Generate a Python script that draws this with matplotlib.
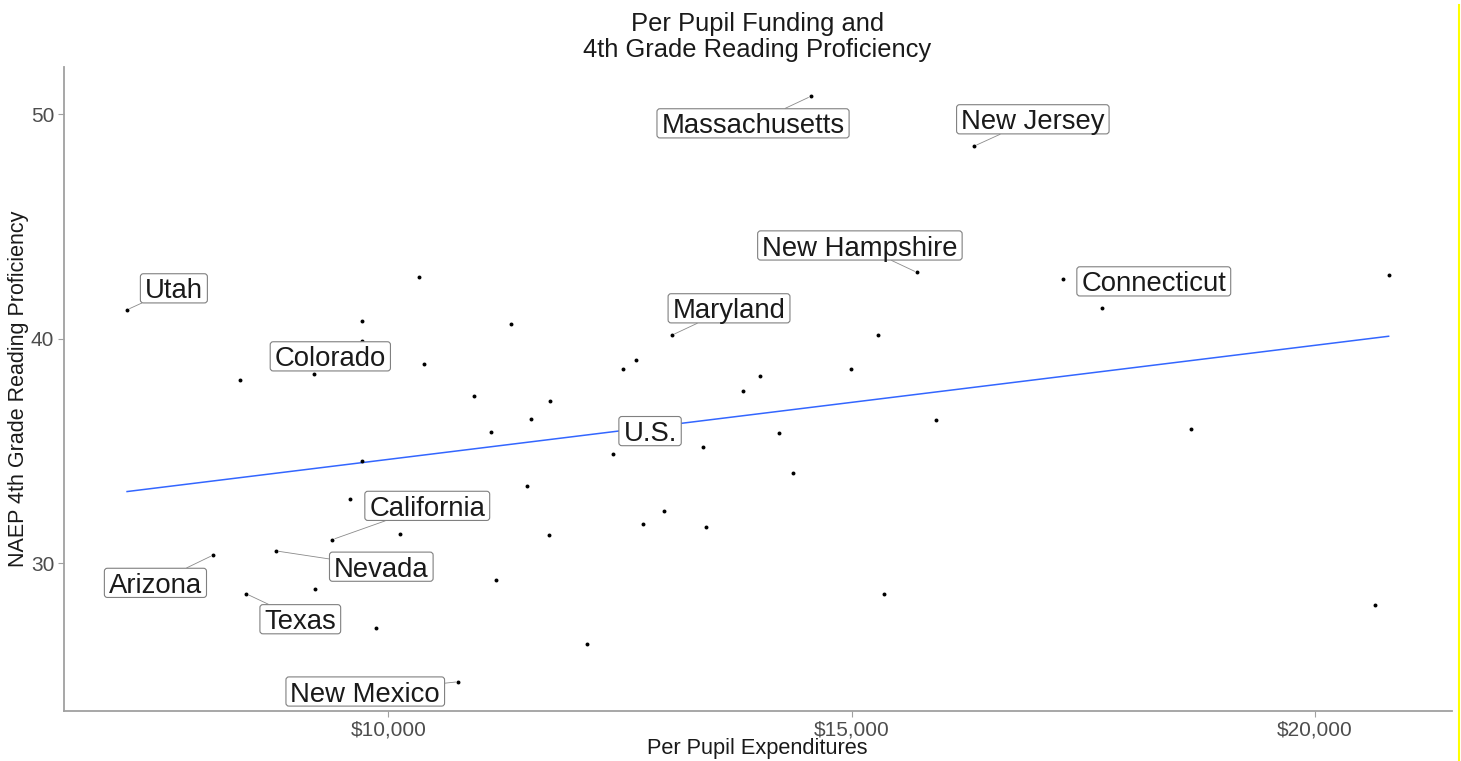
import numpy as np
import matplotlib
matplotlib.use('Agg')
import matplotlib.pyplot as plt
from matplotlib.patches import FancyBboxPatch
from matplotlib.ticker import FuncFormatter
from matplotlib.transforms import ScaledTranslation, IdentityTransform
from matplotlib.lines import Line2D

plt.rcParams['font.family'] = ['Liberation Sans', 'DejaVu Sans']

# labelled states: per pupil spending ($) and NAEP 4th grade reading proficiency (%)
label_names = ['Utah', 'Massachusetts', 'New Jersey', 'New Hampshire', 'Maryland',
               'Connecticut', 'Colorado', 'U.S.', 'California', 'Nevada',
               'Arizona', 'Texas', 'New Mexico']
label_spend = [7182, 14561, 16322, 15707, 13062, 17282, 9202, 12426, 9396, 8785,
               8110, 8466, 10758]
label_read = [41.29, 50.80, 48.58, 42.95, 40.16, 42.65, 38.44, 34.86, 31.05, 30.55,
              30.36, 28.64, 24.72]

# the other states
other_spend = [10337, 9720, 11323, 9716, 10381, 8404, 15284, 12677, 12531, 14011,
               14989, 17696, 20794, 10927, 11747, 11545, 11111, 9720, 11496, 9583,
               10129, 11739, 9210, 11161, 9867, 13831, 13393, 14216, 15906, 14364,
               12979, 12750, 13429, 15348, 12143, 18662, 20643]
other_read = [42.76, 40.77, 40.67, 39.88, 38.86, 38.15, 40.16, 39.07, 38.65, 38.36,
              38.65, 41.38, 42.86, 37.45, 37.24, 36.44, 35.85, 34.56, 33.44, 32.86,
              31.32, 31.26, 28.84, 29.24, 27.12, 37.66, 35.16, 35.78, 36.37, 34.04,
              32.32, 31.73, 31.63, 28.64, 26.41, 35.97, 28.13]

# where the repelled label boxes sit (box centres, data units)
label_box_x = [7687, 13936, 16955, 15089, 13677, 18260, 9375, 12825, 10421, 9925,
               7488, 9051, 9752]
label_box_y = [42.24, 49.59, 49.77, 44.15, 41.35, 42.55, 39.21, 35.88, 32.55, 29.84,
               29.12, 27.50, 24.28]
no_segment = ['Connecticut', 'Colorado', 'U.S.']

W, H = 1461, 761
fig = plt.figure(figsize=(W / 100, H / 100), dpi=100)
ax = fig.add_axes([64 / W, 50 / H, 1387.7 / W, 644 / H])

all_x = np.array(label_spend + other_spend, dtype=float)
all_y = np.array(label_read + other_read, dtype=float)

ax.scatter(all_x, all_y, s=8, color='black', linewidths=0, zorder=3)

# linear fit like geom_smooth(method = "lm", se = FALSE)
fit = np.polyfit(all_x, all_y, 1)
xs = np.array([all_x.min(), all_x.max()])
ax.plot(xs, np.polyval(fit, xs), color='#3366FF', lw=1.1, zorder=2)

ax.margins(x=0.05, y=0.05)
ax.set_xticks([10000, 15000, 20000])
ax.xaxis.set_major_formatter(FuncFormatter(lambda v, p: '${:,.0f}'.format(v)))
ax.set_yticks([30, 40, 50])
ax.tick_params(axis='both', labelsize=15, labelcolor='#4d4d4d', color='#a0a0a0',
               length=4, width=0.8, pad=3)
for s in ['top', 'right']:
    ax.spines[s].set_visible(False)
for s in ['left', 'bottom']:
    ax.spines[s].set_color('#a0a0a0')
    ax.spines[s].set_linewidth(1.3)

# labels: text baseline sits 10px below the box centre
fs = 19.8
shift = ScaledTranslation(0, -10 / 100, fig.dpi_scale_trans)
texts = []
for name, lx, ly in zip(label_names, label_box_x, label_box_y):
    t = ax.text(lx, ly, name, transform=ax.transData + shift, ha='center',
                va='baseline', fontsize=fs, color='#1a1a1a', zorder=6)
    texts.append(t)

fig.canvas.draw()
ax.set_xlim(ax.get_xlim())
ax.set_ylim(ax.get_ylim())
r = fig.canvas.get_renderer()
cap = 0.716 * fs / 72 * 100

for t, name, px, py, lx, ly in zip(texts, label_names, label_spend, label_read,
                                   label_box_x, label_box_y):
    bb = t.get_window_extent(r)
    cx, cy = ax.transData.transform((lx, ly))
    base = cy - 10
    box = FancyBboxPatch((bb.x0 - 4.5, base - 4.5), bb.width + 9, cap + 9.5,
                         boxstyle='round,pad=0,rounding_size=3',
                         transform=IdentityTransform(), facecolor='white',
                         edgecolor='#808080', lw=0.8, zorder=5)
    ax.add_patch(box)
    if name not in no_segment:
        ax.annotate('', xy=(px, py), xytext=(cx, cy), textcoords='figure pixels',
                    arrowprops=dict(arrowstyle='-', color='#8a8a8a', lw=0.6,
                                    patchA=box, shrinkA=0, shrinkB=2),
                    zorder=4)

fig.text(757.5 / W, 1 - 30.7 / H, 'Per Pupil Funding and', ha='center',
         va='baseline', fontsize=18.4, color='#1a1a1a')
fig.text(757.5 / W, 1 - 56.7 / H, '4th Grade Reading Proficiency', ha='center',
         va='baseline', fontsize=18.4, color='#1a1a1a')
fig.text(757.5 / W, 1 - 754 / H, 'Per Pupil Expenditures', ha='center',
         va='baseline', fontsize=15.7, color='#1a1a1a')
fig.text(19 / W, 1 - 388.5 / H, 'NAEP 4th Grade Reading Proficiency', rotation=90,
         ha='center', va='center', fontsize=15.5, color='#1a1a1a')

# yellow edge line on the right of the screenshot
fig.add_artist(Line2D([1459 / W, 1459 / W], [0, 1 - 5 / H], transform=fig.transFigure,
                      color='#ffff00', lw=1.5))

fig.savefig('out.png', dpi=100)
